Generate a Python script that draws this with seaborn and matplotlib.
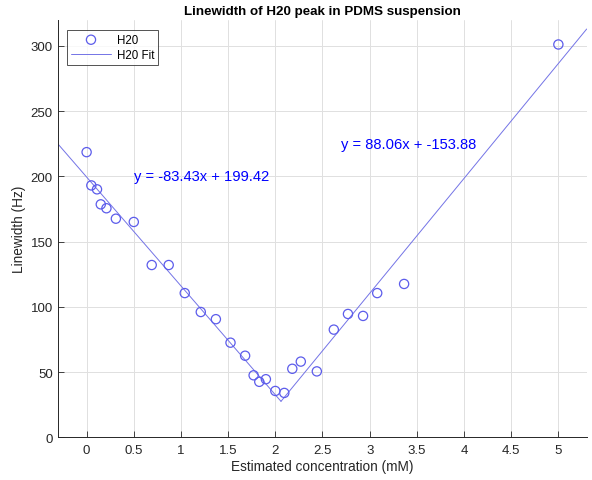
"""Linewidth of H20 peak vs estimated concentration, with two linear fits."""

import numpy as np
import seaborn as sns
from matplotlib import pyplot as plt

conc = [0.0, 0.05, 0.11, 0.15, 0.21, 0.31, 0.5, 0.69, 0.87, 1.04, 1.21, 1.37,
        1.525, 1.68, 1.77, 1.83, 1.90, 2.0, 2.095, 2.18, 2.27, 2.44, 2.62,
        2.77, 2.93, 3.08, 3.365, 5.0]
linewidth = [218.5, 193, 190, 178.5, 175.5, 167.5, 165, 132, 132, 110.5, 96,
             90.5, 72.5, 62.5, 47.5, 42.5, 44.5, 35.5, 34, 52.5, 58, 50.5,
             82.5, 94.5, 93, 110.5, 117.5, 301]

# fit coefficients (slope, intercept) and x spans of each fit segment
fit_low = (-83.43, 199.42)
fit_high = (88.06, -153.88)
x_break = (fit_low[1] - fit_high[1]) / (fit_high[0] - fit_low[0])
xlim = (-0.3, 5.3)
ylim = (0, 320)
xticks = [0, 0.5, 1, 1.5, 2, 2.5, 3, 3.5, 4, 4.5, 5]
yticks = [0, 50, 100, 150, 200, 250, 300]

marker_col = (0.36, 0.36, 0.92)
line_col = (0.45, 0.45, 0.9)
text_col = (0.0, 0.0, 1.0)
dark = (0.15, 0.15, 0.15)

sns.set_theme(style='ticks')
plt.rcParams['font.family'] = ['Liberation Sans', 'DejaVu Sans']

fig = plt.figure(figsize=(5.92, 4.81), dpi=100)
ax = fig.add_axes([0.0985, 0.0888, 0.8925, 0.8682])

sns.scatterplot(x=conc, y=linewidth, ax=ax, marker='o', s=44,
                facecolors='none', edgecolor=marker_col, linewidth=0.9,
                label='H20', zorder=3)

seg_low = np.array([xlim[0], x_break])
seg_high = np.array([x_break, xlim[1]])
sns.lineplot(x=seg_low, y=fit_low[0] * seg_low + fit_low[1], ax=ax,
             color=line_col, linewidth=0.7, label='H20 Fit')
sns.lineplot(x=seg_high, y=fit_high[0] * seg_high + fit_high[1], ax=ax,
             color=line_col, linewidth=0.7, label='_nolegend_')

ax.text(0.5, 200, f'y = {fit_low[0]:.2f}x + {fit_low[1]:.2f}',
        color=text_col, fontsize=10.6, ha='left', va='center')
ax.text(2.7, 225, f'y = {fit_high[0]:.2f}x + {fit_high[1]:.2f}',
        color=text_col, fontsize=10.6, ha='left', va='center')

ax.set_xlim(*xlim)
ax.set_ylim(*ylim)
ax.set_xticks(xticks)
ax.set_xticklabels([f'{t:g}' for t in xticks])
ax.set_yticks(yticks)
ax.grid(True, color=(0.88, 0.88, 0.88), linewidth=0.7)
ax.set_axisbelow(True)
for side in ['top', 'right']:
    ax.spines[side].set_visible(False)
for side in ['left', 'bottom']:
    ax.spines[side].set_color(dark)
    ax.spines[side].set_linewidth(0.7)
ax.tick_params(direction='in', length=4, width=0.6, colors=dark,
               labelsize=9.5)
ax.tick_params(axis='x', pad=5)
ax.tick_params(axis='y', pad=4)

ax.set_title('Linewidth of H20 peak in PDMS suspension', fontsize=9.6,
             fontweight='bold', color='black', pad=4)
ax.set_xlabel('Estimated concentration (mM)', fontsize=9.8, color=dark,
              labelpad=2)
ax.set_ylabel('Linewidth (Hz)', fontsize=9.8, color=dark, labelpad=3)

leg = ax.legend(loc='upper left', bbox_to_anchor=(0.016, 0.976),
                fontsize=8.3, frameon=True, fancybox=False, borderaxespad=0,
                handlelength=3.5, borderpad=0.35, labelspacing=0.25,
                handletextpad=0.5)
leg.get_frame().set_edgecolor(dark)
leg.get_frame().set_linewidth(0.7)
for t in leg.get_texts():
    t.set_color('black')

plt.savefig('out.png', dpi=100)
